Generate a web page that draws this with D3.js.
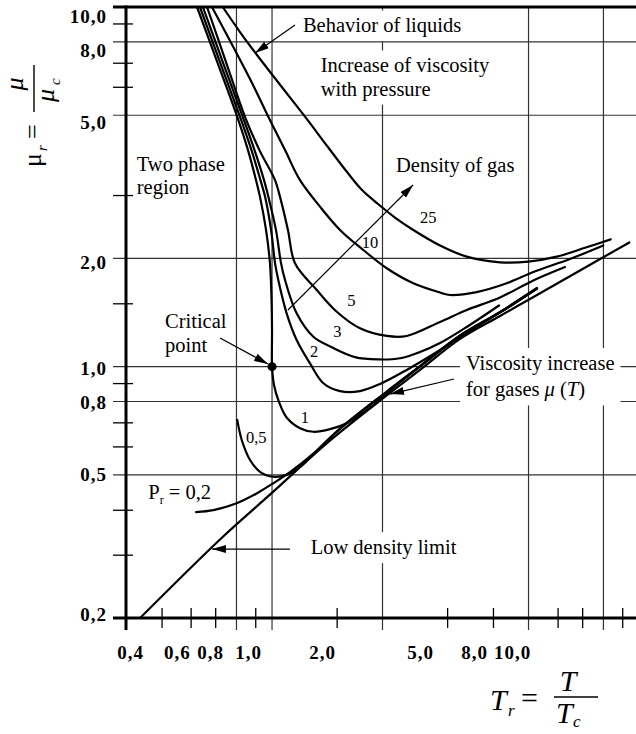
<!DOCTYPE html>
<html><head><meta charset="utf-8">
<script src="https://cdn.jsdelivr.net/npm/d3@7/dist/d3.min.js"></script>
<style>
html,body{margin:0;padding:0;background:#fff;}
svg{display:block;}
text{font-family:"Liberation Serif","Times New Roman",serif;fill:#000;}
</style></head><body>
<svg id="chart" width="636" height="734"></svg>
<script>
// ---------------- data (Tr, mu_r) ----------------
const xTickLabels = [0.4, 0.6, 0.8, 1.0, 2.0, 5.0, 8.0, 10.0];
const yTickLabels = [0.2, 0.5, 0.8, 1.0, 2.0, 5.0, 8.0, 10.0];
const xGridValues = [0.8, 1, 2, 5, 8];
const yGridValues = [0.5, 0.8, 1, 2, 5, 8];
const xMinorTicks = [0.5, 0.6, 0.7, 0.9, 1.5, 3, 4, 6, 7, 9];
const yMinorTicks = [0.3, 0.4, 0.6, 0.7, 0.9, 1.5, 3, 6, 7, 9];

const curvePr02 = [[0.621,0.394],[0.692,0.399],[0.801,0.417],[0.908,0.444],[1.008,0.474],[1.119,0.509],[1.296,0.573],[1.532,0.673],[2.045,0.850],[2.531,1.004],[3.253,1.221],[4.181,1.419],[5.272,1.654]];
const curvePr05 = [[0.804,0.711],[0.827,0.625],[0.871,0.550],[0.927,0.510],[1.008,0.494],[1.096,0.500],[1.192,0.526],[1.296,0.571],[1.532,0.671],[2.045,0.847],[2.531,1.001],[3.253,1.217],[4.181,1.415],[5.272,1.649]];
const curvePr1 = [[0.6245,10.0],[0.706,7.12],[0.804,4.95],[0.860,4.00],[0.9045,3.30],[0.927,2.97],[0.963,2.40],[0.987,1.94],[0.997,1.53],[1.0,1.26],[1.0,1.0],[1.0125,0.889],[1.045,0.797],[1.096,0.722],[1.192,0.674],[1.296,0.659],[1.439,0.670],[1.598,0.696],[1.737,0.734],[1.888,0.782],[2.054,0.843],[2.531,1.001],[3.253,1.217],[4.181,1.415],[5.272,1.649]];
const curvePr2 = [[0.636,10.0],[0.718,7.12],[0.818,4.95],[0.879,4.00],[0.930,3.30],[0.957,2.97],[0.994,2.40],[1.019,1.94],[1.040,1.741],[1.096,1.407],[1.167,1.186],[1.269,1.021],[1.380,0.899],[1.532,0.855],[1.737,0.855],[1.970,0.895],[2.328,0.979],[2.870,1.112],[3.253,1.209],[4.181,1.415],[5.272,1.649]];
const curvePr3 = [[0.648,10.0],[0.731,7.12],[0.832,4.95],[0.896,4.00],[0.951,3.30],[0.977,2.97],[1.025,2.40],[1.058,1.94],[1.085,1.741],[1.167,1.407],[1.296,1.211],[1.469,1.127],[1.683,1.063],[1.945,1.047],[2.233,1.055],[2.531,1.098],[2.870,1.163],[3.393,1.289],[4.154,1.479]];
const curvePr5 = [[0.665,10.0],[0.746,7.12],[0.844,4.95],[0.924,4.00],[1.019,3.30],[1.051,2.97],[1.105,2.40],[1.155,1.938],[1.324,1.633],[1.501,1.421],[1.737,1.278],[2.054,1.217],[2.328,1.217],[2.870,1.331],[3.393,1.437],[4.181,1.557],[5.152,1.736],[6.287,1.892]];
const curvePr10 = [[0.686,10.0],[0.882,6.15],[0.977,4.95],[1.085,4.00],[1.192,3.30],[1.351,2.785],[1.532,2.399],[1.773,2.110],[2.054,1.877],[2.427,1.705],[2.870,1.607],[3.055,1.582],[3.613,1.612],[4.361,1.705],[5.152,1.833],[6.486,1.992],[7.993,2.172]];
const curvePr25 = [[0.734,10.0],[0.818,8.52],[0.910,7.355],[1.058,6.03],[1.230,4.954],[1.420,4.080],[1.601,3.477],[1.759,3.098],[1.945,2.833],[2.163,2.598],[2.427,2.399],[2.870,2.172],[3.393,2.022],[4.181,1.950],[4.993,1.958],[5.967,2.022],[7.127,2.14],[8.373,2.259]];
const lowDensityLimit = [[0.437,0.200],[0.736,0.337],[1.008,0.449],[1.409,0.612],[2.045,0.829],[2.531,0.979],[3.253,1.194],[4.181,1.383],[5.272,1.582],[6.906,1.851],[9.410,2.214]];
const criticalPoint = [1.0, 1.0];

const curveLabels = [
  {text:"25",  at:[2.531,2.503]},
  {text:"10",  at:[1.755,2.133]},
  {text:"5",   at:[1.604,1.475]},
  {text:"3",   at:[1.469,1.207]},
  {text:"2",   at:[1.269,1.061]},
  {text:"1",   at:[1.197,0.698]},
  {text:"0,5", at:[0.849,0.614]}
];
const annotations = [
  {lines:["Behavior of liquids"], at:[1.214,8.495], box:"A"},
  {lines:["Increase of viscosity","with pressure"], at:[1.357,6.58], box:"A"},
  {lines:["Two phase","region"], at:[0.428,3.506]},
  {lines:["Density of gas"], at:[2.177,3.484]},
  {lines:["Critical","point"], at:[0.511,1.278]},
  {lines:["Viscosity increase","for gases *μ* (*T*)"], at:[3.378,0.979], box:"B", lh:26.5},
  {lines:["Low density limit"], at:[1.274,0.301], box:"B"}
];
const prLabel = {at:[0.460,0.428]};
const arrows = [
  {from:[1.155,8.912], to:[0.899,7.45]},
  {from:[0.7215,1.201], to:[0.975,1.017]},
  {from:[3.133,0.924], to:[2.097,0.839]},
  {from:[1.119,0.311], to:[0.686,0.311]},
  {from:[1.105,1.437], to:[2.423,3.199]}
];

// ---------------- drawing ----------------
const W = 636, H = 734;
const svg = d3.select('#chart');
svg.append('rect').attr('width',W).attr('height',H).attr('fill','#fff');

const x = d3.scaleLog().domain([0.4, 10]).range([126, 639]);
const y = d3.scaleLog().domain([0.2, 10]).range([618, 7]);
// the reference prints its tick labels offset from their tick marks:
// layout scales reproduce where the printed labels sit
const xLabelPos = d3.scaleLog().domain([0.4, 0.8, 1, 5, 8, 10]).range([130, 210, 248, 420, 474, 512]);
const yLabelPos = d3.scaleLog().domain([0.2, 10]).range([614, 16]);

const pxLeft = x.range()[0], pxTop = y.range()[1], pxBottom = y.range()[0];
const outerLeft = pxLeft - 13;
const GRID = '#333', INK = '#000';

const marker = svg.append('defs').append('marker')
  .attr('id','arrow').attr('viewBox','0 0 14 8').attr('refX',14).attr('refY',4)
  .attr('markerWidth',14).attr('markerHeight',8).attr('markerUnits','userSpaceOnUse')
  .attr('orient','auto');
marker.append('path').attr('d','M0,0L14,4L0,8Z').attr('fill',INK);

// vertical grid
svg.append('g').selectAll('line').data(xGridValues).join('line')
  .attr('x1',d=>x(d)).attr('x2',d=>x(d)).attr('y1',pxTop).attr('y2',pxBottom+12)
  .attr('stroke',GRID).attr('stroke-width',1.2);
const boxA = svg.append('g');
// horizontal grid
svg.append('g').selectAll('line').data(yGridValues).join('line')
  .attr('x1',outerLeft).attr('x2',W).attr('y1',d=>y(d)).attr('y2',d=>y(d))
  .attr('stroke',GRID).attr('stroke-width',1.2);
const boxB = svg.append('g');

// curves
const line = d3.line().x(d=>x(d[0])).y(d=>y(d[1])).curve(d3.curveCatmullRom.alpha(0.5));
const curves = [curvePr02, curvePr05, curvePr1, curvePr2, curvePr3, curvePr5, curvePr10, curvePr25, lowDensityLimit];
svg.append('g').selectAll('path').data(curves).join('path')
  .attr('d', line).attr('fill','none').attr('stroke',INK).attr('stroke-width',2.2)
  .attr('stroke-linejoin','round').attr('stroke-linecap','round');

svg.append('circle').attr('cx',x(criticalPoint[0])).attr('cy',y(criticalPoint[1])).attr('r',4.5).attr('fill',INK);

// arrows
svg.append('g').selectAll('line').data(arrows).join('line')
  .attr('x1',d=>x(d.from[0])).attr('y1',d=>y(d.from[1]))
  .attr('x2',d=>x(d.to[0])).attr('y2',d=>y(d.to[1]))
  .attr('stroke',INK).attr('stroke-width',1.2).attr('marker-end','url(#arrow)');

// annotations
const textLayer = svg.append('g');
function addSegments(sel, str){
  str.split(/(\*[^*]+\*)/).filter(s=>s.length).forEach(s=>{
    const it = s.startsWith('*');
    sel.append('tspan').text(it ? s.slice(1,-1) : s).attr('font-style', it ? 'italic' : null);
  });
}
annotations.forEach(a=>{
  const t = textLayer.append('text').attr('x',x(a.at[0])).attr('y',y(a.at[1]))
    .attr('font-size',20.5);
  a.lines.forEach((ln,i)=>{
    const ts = t.append('tspan').attr('x',x(a.at[0])).attr('dy', i===0 ? 0 : (a.lh||23.2));
    addSegments(ts, ln);
  });
  if (a.box){
    const bb = t.node().getBBox();
    (a.box==='A'?boxA:boxB).append('rect')
      .attr('x',bb.x-6).attr('y',bb.y-4).attr('width',bb.width+12).attr('height',bb.height+8)
      .attr('fill','#fff');
  }
});
textLayer.selectAll('.clab').data(curveLabels).join('text').attr('class','clab')
  .attr('x',d=>x(d.at[0])).attr('y',d=>y(d.at[1])).attr('font-size',16.5).text(d=>d.text);
const pr = textLayer.append('text').attr('x',x(prLabel.at[0])).attr('y',y(prLabel.at[1])).attr('font-size',20.5);
pr.append('tspan').text('P');
pr.append('tspan').text('r').attr('font-size',12).attr('dy',5);
pr.append('tspan').text(' = 0,2').attr('dy',-5);

// axes frame
svg.append('line').attr('x1',outerLeft).attr('x2',W).attr('y1',pxTop).attr('y2',pxTop).attr('stroke',INK).attr('stroke-width',3);
svg.append('line').attr('x1',outerLeft).attr('x2',W).attr('y1',pxBottom).attr('y2',pxBottom).attr('stroke',INK).attr('stroke-width',3);
svg.append('line').attr('x1',pxLeft).attr('x2',pxLeft).attr('y1',pxTop-1.5).attr('y2',pxBottom+12).attr('stroke',INK).attr('stroke-width',3);

// minor ticks
svg.append('g').attr('transform',`translate(0,${pxBottom-10})`)
  .call(d3.axisBottom(x).tickValues(xMinorTicks).tickSize(20).tickFormat(''))
  .call(g=>g.select('.domain').remove())
  .call(g=>g.selectAll('line').attr('stroke',INK).attr('stroke-width',1.3));
svg.append('g').attr('transform',`translate(${pxLeft+7},0)`)
  .call(d3.axisLeft(y).tickValues(yMinorTicks).tickSize(20).tickFormat(''))
  .call(g=>g.select('.domain').remove())
  .call(g=>g.selectAll('line').attr('stroke',INK).attr('stroke-width',1.3));

// tick labels
const fmt = d => d.toFixed(1).replace('.', ',');
svg.append('g').attr('transform','translate(0,659)')
  .call(d3.axisBottom(xLabelPos).tickValues(xTickLabels).tickSize(0).tickPadding(0).tickFormat(fmt))
  .call(g=>g.select('.domain').remove())
  .call(g=>g.selectAll('text').attr('y',0).attr('dy',0)
      .attr('font-family','"Liberation Serif","Times New Roman",serif')
      .attr('font-weight','bold').attr('font-size',19).attr('letter-spacing',1).attr('fill',INK));
svg.append('g').attr('transform','translate(107,0)')
  .call(d3.axisLeft(yLabelPos).tickValues(yTickLabels).tickSize(0).tickPadding(0).tickFormat(fmt))
  .call(g=>g.select('.domain').remove())
  .call(g=>g.selectAll('text').attr('x',0).attr('dy','0.35em')
      .attr('font-family','"Liberation Serif","Times New Roman",serif')
      .attr('font-weight','bold').attr('font-size',19).attr('letter-spacing',1).attr('fill',INK));

// y title: mu_r = mu / mu_c (rotated)
const yt = svg.append('g').attr('transform','translate(41,170) rotate(-90)');
yt.append('text').attr('x',3).attr('y',0).attr('font-size',26).text('μ');
yt.append('text').attr('x',19).attr('y',6).attr('font-size',15).attr('font-style','italic').text('r');
yt.append('text').attr('x',31).attr('y',0).attr('font-size',26).text('=');
yt.append('line').attr('x1',58).attr('x2',105).attr('y1',-7).attr('y2',-7).attr('stroke',INK).attr('stroke-width',1.4);
yt.append('text').attr('x',86).attr('y',-18).attr('text-anchor','middle').attr('font-size',26).attr('font-style','italic').text('μ');
yt.append('text').attr('x',68).attr('y',13).attr('font-size',26).attr('font-style','italic').text('μ');
yt.append('text').attr('x',85).attr('y',19).attr('font-size',15).attr('font-style','italic').text('c');

// x title: T_r = T / T_c
const xt = svg.append('g');
xt.append('text').attr('x',490).attr('y',710).attr('font-size',30).attr('font-style','italic').text('T');
xt.append('text').attr('x',508).attr('y',716).attr('font-size',17).attr('font-style','italic').text('r');
xt.append('text').attr('x',521).attr('y',708).attr('font-size',30).text('=');
xt.append('line').attr('x1',554).attr('x2',598).attr('y1',697).attr('y2',697).attr('stroke',INK).attr('stroke-width',1.4);
xt.append('text').attr('x',568).attr('y',691).attr('text-anchor','middle').attr('font-size',30).attr('font-style','italic').text('T');
xt.append('text').attr('x',556).attr('y',723).attr('font-size',30).attr('font-style','italic').text('T');
xt.append('text').attr('x',573).attr('y',727).attr('font-size',17).attr('font-style','italic').text('c');
</script>
</body></html>
